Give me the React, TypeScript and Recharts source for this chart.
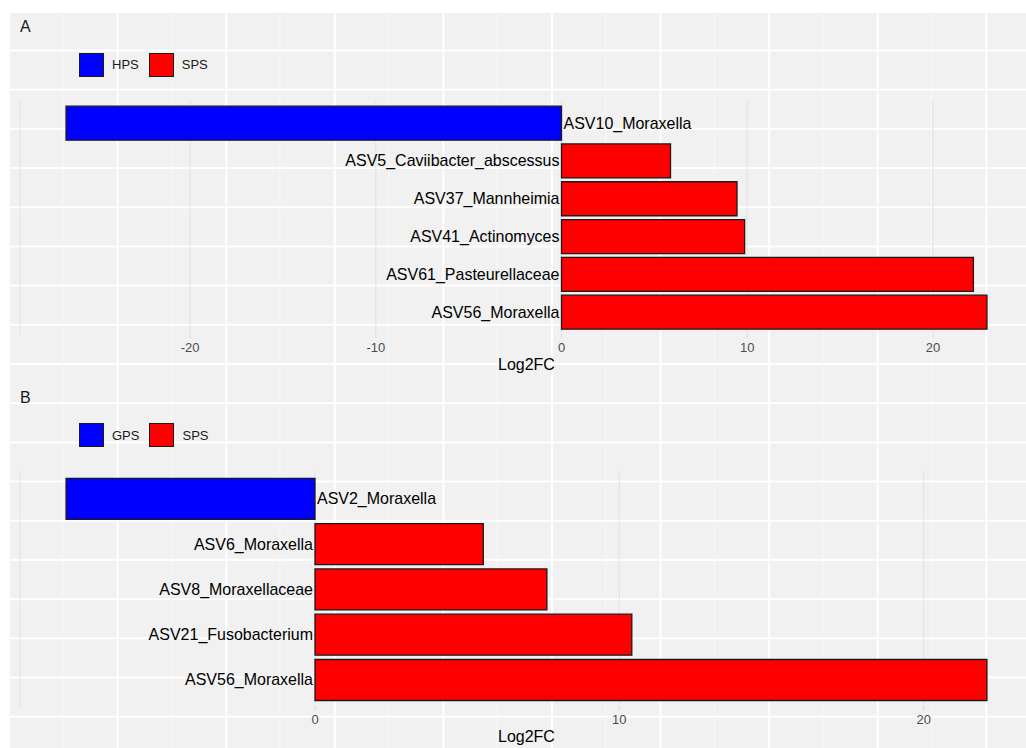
import { Bar, BarChart, CartesianGrid, Cell, LabelList, XAxis, YAxis } from "recharts";

// Panel A: HPS vs SPS
const taxaA = [
  "ASV10_Moraxella",
  "ASV5_Caviibacter_abscessus",
  "ASV37_Mannheimia",
  "ASV41_Actinomyces",
  "ASV61_Pasteurellaceae",
  "ASV56_Moraxella",
];
const log2fcA = [-26.68, 5.87, 9.45, 9.86, 22.18, 22.91];
const groupA = ["HPS", "SPS", "SPS", "SPS", "SPS", "SPS"];
const ticksA = [-20, -10, 0, 10, 20];

// Panel B: GPS vs SPS
const taxaB = [
  "ASV2_Moraxella",
  "ASV6_Moraxella",
  "ASV8_Moraxellaceae",
  "ASV21_Fusobacterium",
  "ASV56_Moraxella",
];
const log2fcB = [-8.18, 5.53, 7.62, 10.41, 22.08];
const groupB = ["GPS", "SPS", "SPS", "SPS", "SPS"];
const ticksB = [0, 10, 20];

const groupColors: Record<string, string> = { HPS: "#0000ff", GPS: "#0000ff", SPS: "#ff0000" };

const FONT = "'Liberation Sans', Arial, Helvetica, sans-serif";
const CHART_W = 1040;
const PLOT_TOP = 87.5;
// axis box is a bit taller than the title baseline so the "g" descender isn't clipped
const AXIS_H = 43;
const TITLE_OFFSET = 8;

interface PanelProps {
  letter: string;
  taxa: string[];
  values: number[];
  groups: string[];
  ticks: number[];
  band: number;
  top: number;
}

function makeLabel(values: number[]) {
  return (props: any) => {
    const vb = props.viewBox ?? {};
    const x = Number(props.x ?? vb.x);
    const y = Number(props.y ?? vb.y);
    const w = Number(props.width ?? vb.width);
    const h = Number(props.height ?? vb.height);
    const v = values[props.index];
    const left = Math.min(x, x + w);
    const right = Math.max(x, x + w);
    const neg = v < 0;
    const zero = neg ? right : left;
    return (
      <text
        x={neg ? zero + 2 : zero - 2}
        y={y + h / 2}
        textAnchor={neg ? "start" : "end"}
        dominantBaseline="central"
        fontSize={16}
        fontFamily={FONT}
        fill="#000"
      >
        {props.value}
      </text>
    );
  };
}

function Panel({ letter, taxa, values, groups, ticks, band, top }: PanelProps) {
  const data = taxa.map((taxon, i) => ({ taxon, value: values[i], group: groups[i] }));
  const lo = Math.min(...values);
  const hi = Math.max(...values);
  const pad = (hi - lo) * 0.05;
  const plotH = band * (taxa.length + 0.2);
  const legendKeys = Array.from(new Set(groups));

  return (
    <div style={{ position: "absolute", left: 0, top, width: CHART_W, height: PLOT_TOP + plotH + AXIS_H }}>
      <div style={{ position: "absolute", left: 12, top: 5, fontSize: 16, color: "#1a1a1a" }}>{letter}</div>
      <div style={{ position: "absolute", left: 71, top: 39.5, display: "flex", alignItems: "center" }}>
        {legendKeys.map((k, i) => (
          <div key={k} style={{ display: "flex", alignItems: "center", marginLeft: i ? 10 : 0 }}>
            <div
              style={{
                width: 25,
                height: 24,
                boxSizing: "border-box",
                border: "1.5px solid #1a1a1a",
                background: groupColors[k],
              }}
            />
            <span style={{ marginLeft: 8, fontSize: 13, color: "#1a1a1a" }}>{k}</span>
          </div>
        ))}
      </div>
      <BarChart
        width={CHART_W}
        height={PLOT_TOP + plotH + AXIS_H}
        data={data}
        layout="vertical"
        margin={{ top: PLOT_TOP, right: 15, bottom: 0, left: 12 }}
        barCategoryGap="5%"
      >
        <CartesianGrid horizontal={false} stroke="#e3e3e3" strokeWidth={1} />
        <XAxis
          type="number"
          domain={[lo - pad, hi + pad]}
          ticks={ticks}
          allowDataOverflow
          axisLine={false}
          tickLine={{ stroke: "#d6d6d6" }}
          tickSize={3}
          tickMargin={5}
          height={AXIS_H}
          tick={{ fontSize: 13, fill: "#4d4d4d", fontFamily: FONT }}
          label={{
            value: "Log2FC",
            position: "insideBottom",
            offset: TITLE_OFFSET,
            fontSize: 16,
            fill: "#000",
            fontFamily: FONT,
          }}
        />
        <YAxis
          type="category"
          dataKey="taxon"
          hide
          padding={{ top: band * 0.1, bottom: band * 0.1 }}
        />
        <Bar dataKey="value" stroke="#1a1a1a" strokeWidth={1.3} isAnimationActive={false}>
          {data.map((d) => (
            <Cell key={d.taxon} fill={groupColors[d.group]} />
          ))}
          <LabelList dataKey="taxon" content={makeLabel(values)} />
        </Bar>
      </BarChart>
    </div>
  );
}

export default function App() {
  return (
    <div
      style={{
        position: "absolute",
        left: 8,
        top: 13,
        width: 1018,
        height: 735,
        overflow: "hidden",
        fontFamily: FONT,
        backgroundColor: "#f1f1f1",
        backgroundImage: [
          "linear-gradient(to right, #ffffff 0px, #ffffff 1.5px, transparent 1.5px)",
          "linear-gradient(to right, #f8f8f8 0px, #f8f8f8 1px, transparent 1px)",
          "linear-gradient(to bottom, #ffffff 0px, #ffffff 1.5px, transparent 1.5px)",
        ].join(","),
        backgroundSize: "108.6px 100%, 108.6px 100%, 100% 39.2px",
        backgroundPosition: "0px 0px, 54.3px 0px, 0px 36.5px",
      }}
    >
      <Panel letter="A" taxa={taxaA} values={log2fcA} groups={groupA} ticks={ticksA} band={37.8} top={0} />
      <Panel letter="B" taxa={taxaB} values={log2fcB} groups={groupB} ticks={ticksB} band={45.3} top={370.8} />
    </div>
  );
}
